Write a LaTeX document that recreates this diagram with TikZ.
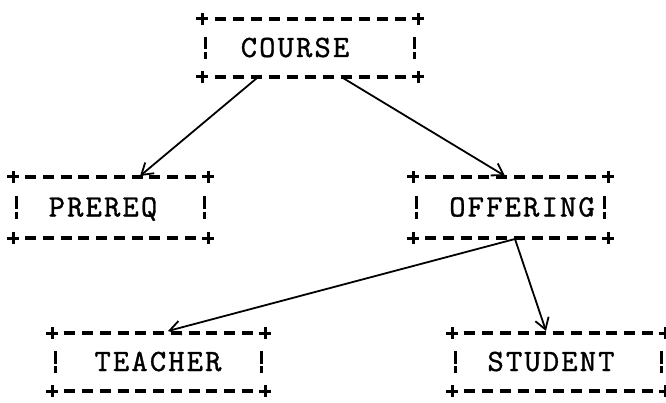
\documentclass[tikz,border=0pt]{standalone}
\usepackage{fontspec}
\usetikzlibrary{arrows.meta}
\newfontfamily\boxfont[LetterSpace=7,FakeBold=1]{lmmono10-regular.otf}

\tikzset{
  boxarea/.style={rectangle, inner sep=0pt, outer sep=0pt},
  boxtext/.style={font=\boxfont\fontsize{31}{31}\selectfont, inner sep=0pt, anchor=base},
  corner/.style={line width=3pt},
  rule/.style={line width=4pt},
  sidebar/.style={line width=3pt},
  link/.style={line width=1.8pt, -{Straight Barb[length=11pt,width=14pt,line width=1.8pt]}}
}

% An ASCII-art style entity box:
% #1 name, #2 left, #3 right, #4 bottom, #5 top, #6 columns, #7 text x, #8 text
\newcommand\asciibox[8]{%
  \pgfmathsetmacro\bxpitch{(#3-#2)/#6}%
  \pgfmathsetmacro\bxgap{\bxpitch-11}%
  \pgfmathsetmacro\bxmid{(#4+#5)/2}%
  \node[boxarea, minimum width=#3pt-#2pt, minimum height=#5pt-#4pt] (#1) at ({(#2+#3)/2},\bxmid) {};
  \node[boxtext] (#1-text) at (#7,\bxmid-9) {#8};
  \foreach \cx in {#2,#3} \foreach \cy in {#4,#5} {
    \draw[corner] (\cx-6,\cy) -- (\cx+6,\cy) (\cx,\cy-6) -- (\cx,\cy+6);
  }
  \draw[rule, dash pattern=on 11pt off \bxgap pt]
    ({#2+\bxpitch-5.5},#5) -- ({#3-\bxpitch+5.5},#5);
  \draw[rule, dash pattern=on 11pt off \bxgap pt]
    ({#2+\bxpitch-5.5},#4) -- ({#3-\bxpitch+5.5},#4);
  \draw[sidebar] (#2+3,\bxmid+11) -- (#2+3,\bxmid-1.5) (#2+3,\bxmid-4) -- (#2+3,\bxmid-11)
                 (#3-4,\bxmid+11) -- (#3-4,\bxmid-1.5) (#3-4,\bxmid-4) -- (#3-4,\bxmid-11);
}

\begin{document}
\begin{tikzpicture}[x=1pt,y=1pt]
\useasboundingbox (0,0) rectangle (666,402);

\asciibox{course}{202}{418}{325}{383}{12}{295}{COURSE}
\asciibox{prereq}{13}{208}{164}{225}{11}{103}{PREREQ}
\asciibox{offering}{413}{608}{164}{225}{11}{522}{OFFERING}
\asciibox{teacher}{52}{265}{11}{69}{12}{158}{TEACHER}
\asciibox{student}{452}{665}{11}{69}{12}{551}{STUDENT}

\draw[link] ([xshift=55pt,yshift=-1pt]course.south west) -- ([xshift=127pt,yshift=1pt]prereq.north west);
\draw[link] ([xshift=141pt,yshift=-1pt]course.south west) -- ([xshift=92pt,yshift=1pt]offering.north west);
\draw[link] ([xshift=102pt,yshift=-1pt]offering.south west) -- ([xshift=116pt,yshift=2pt]teacher.north west);
\draw[link] ([xshift=102pt,yshift=-1pt]offering.south west) -- ([xshift=94pt,yshift=2pt]student.north west);
\end{tikzpicture}
\end{document}
